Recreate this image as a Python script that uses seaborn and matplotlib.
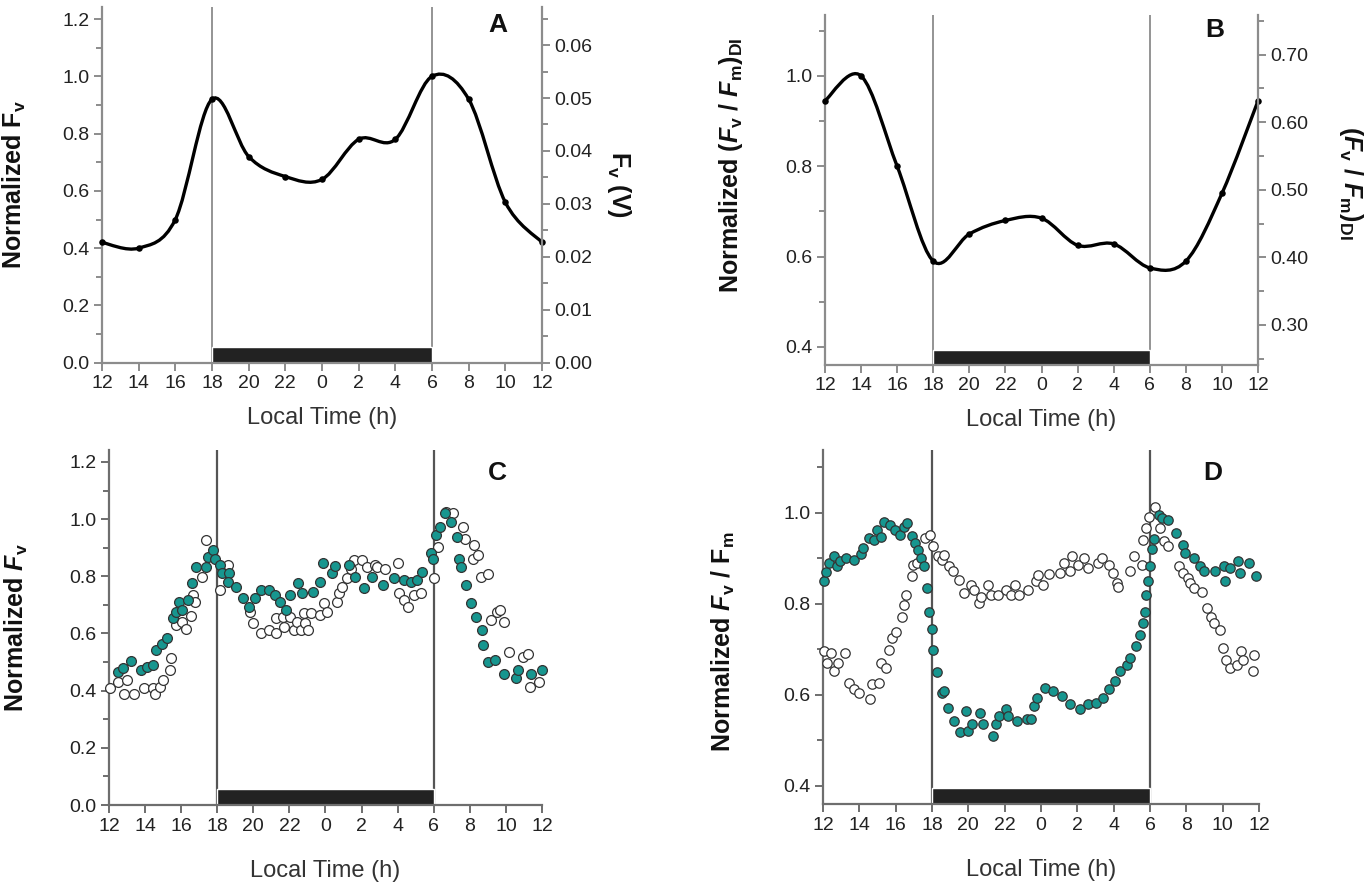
import numpy as np
import pandas as pd
import seaborn as sns
import matplotlib
matplotlib.use("Agg")
import matplotlib.pyplot as plt
from matplotlib.path import Path
from matplotlib.patches import PathPatch
from matplotlib.ticker import MultipleLocator, FixedLocator

# time is kept as hours after noon of day one (12 -> 36 = noon next day)
hours_ab = [12, 14, 16, 18, 20, 22, 24, 26, 28, 30, 32, 34, 36]
fv_norm_a = [0.42, 0.40, 0.50, 0.92, 0.72, 0.65, 0.64, 0.78, 0.78, 1.00, 0.92, 0.56, 0.42]
fvfm_norm_b = [0.945, 1.00, 0.80, 0.59, 0.65, 0.68, 0.685, 0.625, 0.628, 0.575, 0.59, 0.74, 0.945]

tick_hours = list(range(12, 37, 2))
tick_labels = ["12", "14", "16", "18", "20", "22", "0", "2", "4", "6", "8", "10", "12"]
night_start, night_end = 18, 30

# panel C, open circles
c_open_t = [12.06, 12.5, 12.85, 13.0, 13.37, 13.96, 14.43, 14.53, 14.85, 15.0, 15.38, 15.44, 15.7,
            16.07, 16.28, 16.54, 16.64, 16.75, 17.17, 17.38, 18.18, 18.58, 19.8, 20.0, 20.44, 20.86,
            21.28, 21.28, 21.64, 21.7, 22.02, 22.23, 22.44, 22.65, 22.8, 22.86, 23.03, 23.18, 23.7,
            23.92, 24.09, 24.66, 24.76, 24.93, 25.19, 25.4, 25.6, 26.03, 26.3, 26.77, 26.87, 27.3,
            28.03, 28.1, 28.35, 28.56, 28.88, 29.3, 30.0, 30.25, 30.67, 31.09, 31.62, 31.72, 32.15,
            32.25, 32.46, 32.63, 33.03, 33.2, 33.52, 33.69, 33.88, 34.16, 34.93, 35.2, 35.35, 35.84]
c_open_v = [0.408, 0.43, 0.39, 0.437, 0.39, 0.408, 0.408, 0.39, 0.414, 0.437, 0.472, 0.513, 0.629,
            0.641, 0.614, 0.661, 0.734, 0.711, 0.798, 0.927, 0.752, 0.839, 0.676, 0.635, 0.600, 0.612,
            0.600, 0.653, 0.658, 0.624, 0.658, 0.612, 0.641, 0.612, 0.670, 0.635, 0.612, 0.670, 0.664,
            0.705, 0.676, 0.711, 0.740, 0.763, 0.793, 0.827, 0.857, 0.857, 0.833, 0.839, 0.833, 0.827,
            0.845, 0.740, 0.717, 0.693, 0.734, 0.740, 0.793, 0.903, 1.026, 1.020, 0.973, 0.932, 0.862,
            0.909, 0.874, 0.798, 0.808, 0.647, 0.676, 0.682, 0.641, 0.536, 0.519, 0.530, 0.414, 0.431]

# panel C, filled circles
c_teal_t = [12.49, 12.78, 13.22, 13.75, 14.11, 14.43, 14.6, 14.95, 15.2, 15.54, 15.69, 15.9, 16.07,
            16.37, 16.6, 16.85, 17.38, 17.49, 17.74, 17.9, 18.18, 18.27, 18.65, 18.6, 19.03, 19.45,
            19.74, 20.08, 20.44, 20.86, 21.18, 21.49, 21.81, 22.06, 22.49, 22.72, 23.29, 23.67, 23.88,
            24.34, 24.55, 25.29, 25.65, 26.13, 26.6, 27.19, 27.82, 28.35, 28.73, 29.09, 29.34, 29.83,
            29.97, 30.1, 30.35, 30.63, 30.95, 31.3, 31.41, 31.51, 31.77, 32.04, 32.36, 32.68, 32.74,
            33.03, 33.41, 33.88, 34.57, 34.68, 35.38, 36.0]
c_teal_v = [0.466, 0.481, 0.505, 0.474, 0.484, 0.490, 0.542, 0.565, 0.583, 0.653, 0.676, 0.711, 0.682,
            0.717, 0.775, 0.833, 0.833, 0.868, 0.892, 0.862, 0.839, 0.810, 0.810, 0.781, 0.763, 0.723,
            0.693, 0.723, 0.752, 0.752, 0.734, 0.711, 0.682, 0.734, 0.775, 0.740, 0.746, 0.781, 0.847,
            0.810, 0.836, 0.839, 0.798, 0.758, 0.798, 0.769, 0.793, 0.787, 0.781, 0.787, 0.816, 0.880,
            0.862, 0.944, 0.973, 1.020, 0.991, 0.938, 0.862, 0.833, 0.769, 0.705, 0.658, 0.612, 0.559,
            0.501, 0.507, 0.460, 0.443, 0.472, 0.460, 0.474]

# panel D, open circles
d_open_t = [12.07, 12.23, 12.47, 12.59, 12.82, 13.22, 13.46, 13.69, 14.0, 14.58, 14.72, 15.1, 15.17,
            15.45, 15.64, 15.8, 16.0, 16.34, 16.46, 16.58, 16.88, 16.93, 17.16, 17.59, 17.92, 18.06,
            18.34, 18.57, 18.69, 18.92, 19.16, 19.51, 19.75, 20.15, 20.33, 20.57, 20.69, 21.08, 21.23,
            21.62, 22.05, 22.33, 22.56, 22.8, 23.27, 23.74, 23.85, 24.09, 24.44, 25.03, 25.26, 25.62,
            25.73, 26.04, 26.39, 26.6, 27.14, 27.38, 27.77, 27.96, 28.2, 28.26, 28.9, 29.14, 29.54,
            29.61, 29.79, 29.96, 30.26, 30.54, 30.78, 31.01, 31.6, 31.84, 32.07, 32.19, 32.42, 32.89,
            33.13, 33.36, 33.55, 33.83, 34.02, 34.18, 34.42, 34.77, 35.0, 35.12, 35.71, 35.66]
d_open_v = [0.696, 0.670, 0.692, 0.652, 0.670, 0.691, 0.625, 0.613, 0.604, 0.591, 0.623, 0.626, 0.670,
            0.659, 0.699, 0.725, 0.739, 0.772, 0.798, 0.820, 0.860, 0.885, 0.889, 0.944, 0.951, 0.926,
            0.905, 0.896, 0.907, 0.882, 0.871, 0.853, 0.823, 0.842, 0.831, 0.801, 0.816, 0.842, 0.820,
            0.820, 0.831, 0.820, 0.842, 0.820, 0.831, 0.849, 0.864, 0.842, 0.866, 0.867, 0.889, 0.871,
            0.904, 0.885, 0.900, 0.878, 0.889, 0.900, 0.885, 0.867, 0.845, 0.838, 0.871, 0.904, 0.885,
            0.940, 0.966, 0.991, 1.013, 0.966, 0.937, 0.926, 0.882, 0.867, 0.856, 0.845, 0.834, 0.827,
            0.790, 0.772, 0.758, 0.743, 0.703, 0.677, 0.659, 0.666, 0.696, 0.677, 0.688, 0.652]

# panel D, filled circles
d_teal_t = [12.07, 12.19, 12.35, 12.59, 12.75, 12.94, 13.29, 13.69, 14.11, 14.23, 14.54, 14.82, 15.0,
            15.17, 15.36, 15.71, 15.94, 16.23, 16.46, 16.62, 16.88, 17.05, 17.21, 17.4, 17.56, 17.75,
            17.82, 17.99, 18.06, 18.29, 18.57, 18.69, 18.88, 19.2, 19.56, 19.86, 19.98, 20.22, 20.62,
            20.8, 21.34, 21.55, 21.67, 22.05, 22.21, 22.68, 23.22, 23.46, 23.62, 23.78, 24.2, 24.68,
            25.15, 25.62, 26.15, 26.6, 27.02, 27.42, 27.77, 28.08, 28.36, 28.71, 28.9, 29.25, 29.44,
            29.61, 29.72, 29.79, 29.89, 30.0, 30.12, 30.24, 30.5, 30.66, 31.01, 31.44, 31.84, 31.95,
            32.42, 32.77, 33.0, 33.6, 34.07, 34.11, 34.42, 34.82, 34.96, 35.47, 35.83]
d_teal_v = [0.849, 0.869, 0.889, 0.904, 0.882, 0.893, 0.900, 0.896, 0.909, 0.922, 0.944, 0.940, 0.962,
            0.947, 0.980, 0.973, 0.962, 0.951, 0.969, 0.977, 0.949, 0.933, 0.918, 0.900, 0.882, 0.834,
            0.783, 0.745, 0.698, 0.650, 0.604, 0.608, 0.572, 0.542, 0.518, 0.564, 0.520, 0.535, 0.561,
            0.535, 0.510, 0.535, 0.553, 0.568, 0.553, 0.542, 0.546, 0.546, 0.575, 0.593, 0.615, 0.608,
            0.597, 0.579, 0.568, 0.579, 0.582, 0.593, 0.613, 0.630, 0.652, 0.666, 0.681, 0.707, 0.731,
            0.758, 0.781, 0.820, 0.849, 0.882, 0.920, 0.942, 0.995, 0.988, 0.984, 0.955, 0.929, 0.911,
            0.900, 0.882, 0.871, 0.871, 0.882, 0.849, 0.878, 0.893, 0.867, 0.889, 0.860]

TEAL = "#17968f"
SPINE = "#8c8c8c"

sns.set_theme(style="ticks")
plt.rcParams["font.family"] = ["Liberation Sans", "DejaVu Sans"]
plt.rcParams["mathtext.fontset"] = "custom"
plt.rcParams["mathtext.rm"] = "Liberation Sans"
plt.rcParams["mathtext.it"] = "Liberation Sans:italic"
plt.rcParams["mathtext.bf"] = "Liberation Sans:bold"
plt.rcParams["mathtext.bfit"] = "Liberation Sans:italic:bold"


def smooth_curve(ax, x, y):
    # Catmull-Rom through the measured points, drawn as bezier segments
    pts = np.column_stack([x, y]).astype(float)
    pad = np.vstack([pts[0], pts, pts[-1]])
    verts, codes = [tuple(pts[0])], [Path.MOVETO]
    for i in range(len(pts) - 1):
        p0, p1, p2, p3 = pad[i], pad[i + 1], pad[i + 2], pad[i + 3]
        verts += [tuple(p1 + (p2 - p0) / 6), tuple(p2 - (p3 - p1) / 6), tuple(p2)]
        codes += [Path.CURVE4] * 3
    ax.add_patch(PathPatch(Path(verts, codes), fill=False, lw=2.4, color="black", zorder=3))


def base_axes(rect, ylim, major, minor, spine_col, vline_col, vline_lw):
    ax = fig.add_axes(rect)
    ax.set_xlim(12, 36)
    ax.set_ylim(*ylim)
    ax.set_xticks(tick_hours)
    ax.set_xticklabels(tick_labels)
    ax.yaxis.set_major_locator(FixedLocator(major))
    ax.yaxis.set_minor_locator(FixedLocator(minor))
    ax.set_yticklabels([f"{v:.1f}" for v in major])
    for s in ["top", "right"]:
        ax.spines[s].set_visible(False)
    for s in ["left", "bottom"]:
        ax.spines[s].set_color(spine_col)
        ax.spines[s].set_linewidth(1.6)
    ax.tick_params(which="both", direction="out", color=spine_col, width=1.4,
                   labelsize=14, labelcolor="#222222", pad=3)
    ax.tick_params(which="major", length=6)
    ax.tick_params(which="minor", length=4)
    for t in (night_start, night_end):
        ax.axvline(t, color=vline_col, lw=vline_lw, zorder=1)
    bar_h = (ylim[1] - ylim[0]) * 0.044
    ax.bar([night_start], [bar_h], width=night_end - night_start, bottom=ylim[0],
           align="edge", color="#222222", zorder=2)
    return ax


def right_axis(ax, factor, major, minor, label, xpos, ypos):
    axr = ax.twinx()
    lo, hi = ax.get_ylim()
    axr.set_ylim(lo * factor, hi * factor)
    axr.yaxis.set_major_locator(FixedLocator(major))
    axr.yaxis.set_minor_locator(FixedLocator(minor))
    axr.set_yticklabels([f"{v:.2f}" for v in major])
    for s in ["top", "left", "bottom"]:
        axr.spines[s].set_visible(False)
    axr.spines["right"].set_color(SPINE)
    axr.spines["right"].set_linewidth(1.6)
    axr.tick_params(which="both", direction="out", color=SPINE, width=1.4,
                    labelsize=14, labelcolor="#222222", pad=3)
    axr.tick_params(which="major", length=6)
    axr.tick_params(which="minor", length=4)
    axr.set_ylabel(label, fontsize=18, fontweight="bold", rotation=270, color="#111111",
                   va="center")
    axr.yaxis.set_label_coords(xpos, ypos)
    return axr


def labels(ax, ylab, ylab_xy, xlab_y, letter, letter_xy):
    ax.set_ylabel(ylab, fontsize=18, fontweight="bold", color="#111111")
    ax.yaxis.set_label_coords(*ylab_xy)
    ax.set_xlabel("Local Time (h)", fontsize=17, color="#333333")
    ax.xaxis.set_label_coords(0.5, xlab_y)
    ax.text(letter_xy[0], letter_xy[1], letter, transform=ax.transAxes, fontsize=19,
            fontweight="bold", ha="center", va="center", color="#111111")


fig = plt.figure(figsize=(13.67, 8.9), dpi=100)

minor_a = [0.1, 0.3, 0.5, 0.7, 0.9, 1.1]
major_a = [0.0, 0.2, 0.4, 0.6, 0.8, 1.0, 1.2]
major_b = [0.4, 0.6, 0.8, 1.0]
minor_b = [0.5, 0.7, 0.9, 1.1]

# ---- A ----
axA = base_axes([0.0746, 0.5925, 0.3219, 0.3996], (0, 1.242), major_a, minor_a, SPINE, "#777777", 1.1)
smooth_curve(axA, hours_ab, fv_norm_a)
sns.scatterplot(x=hours_ab, y=fv_norm_a, ax=axA, s=22, color="black", edgecolor="black",
                linewidth=0, zorder=4, clip_on=False)
labels(axA, r"Normalized F$_\mathbf{v}$", (-0.168, 0.5), -0.125, "A", (0.90, 0.95))
right_axis(axA, 0.0541, [0.0, 0.01, 0.02, 0.03, 0.04, 0.05, 0.06],
           [0.005, 0.015, 0.025, 0.035, 0.045, 0.055, 0.065],
           r"F$_\mathbf{v}$ (V)", 1.175, 0.5)

# ---- B ----
axB = base_axes([0.6035, 0.5899, 0.3168, 0.3933], (0.36, 1.135), major_b, minor_b, SPINE, "#777777", 1.1)
smooth_curve(axB, hours_ab, fvfm_norm_b)
sns.scatterplot(x=hours_ab, y=fvfm_norm_b, ax=axB, s=22, color="black", edgecolor="black",
                linewidth=0, zorder=4, clip_on=False)
labels(axB, r"Normalized ($\mathbfit{F}_\mathbf{v}$ / $\mathbfit{F}_\mathbf{m}$)$_\mathbf{DI}$",
       (-0.185, 0.57), -0.125, "B", (0.90, 0.957))
right_axis(axB, 0.6684, [0.30, 0.40, 0.50, 0.60, 0.70], [0.25, 0.35, 0.45, 0.55, 0.65, 0.75],
           r"($\mathbfit{F}_\mathbf{v}$ / $\mathbfit{F}_\mathbf{m}$)$_\mathbf{DI}$", 1.215, 0.52)

# ---- C ----
axC = base_axes([0.0797, 0.0955, 0.3168, 0.3989], (0, 1.242), major_a, minor_a, "#6e6e6e", "#555555", 1.6)
sns.scatterplot(x=c_open_t, y=c_open_v, ax=axC, s=50, color="white", edgecolor="#333333",
                linewidth=0.9, zorder=3, clip_on=False)
sns.scatterplot(x=c_teal_t, y=c_teal_v, ax=axC, s=50, color=TEAL, edgecolor="#333333",
                linewidth=0.9, zorder=4, clip_on=False)
labels(axC, r"Normalized $\mathbfit{F}_\mathbf{v}$", (-0.182, 0.5), -0.155, "C", (0.896, 0.935))

# ---- D ----
axD = base_axes([0.602, 0.0966, 0.319, 0.3978], (0.36, 1.138), major_b, minor_b, "#6e6e6e", "#555555", 1.6)
sns.scatterplot(x=d_open_t, y=d_open_v, ax=axD, s=46, color="white", edgecolor="#333333",
                linewidth=0.9, zorder=3, clip_on=False)
sns.scatterplot(x=d_teal_t, y=d_teal_v, ax=axD, s=46, color=TEAL, edgecolor="#333333",
                linewidth=0.9, zorder=4, clip_on=False)
labels(axD, r"Normalized $\mathbfit{F}_\mathbf{v}$ / F$_\mathbf{m}$", (-0.197, 0.458), -0.155, "D",
       (0.894, 0.935))

fig.savefig("out.png", dpi=100)
